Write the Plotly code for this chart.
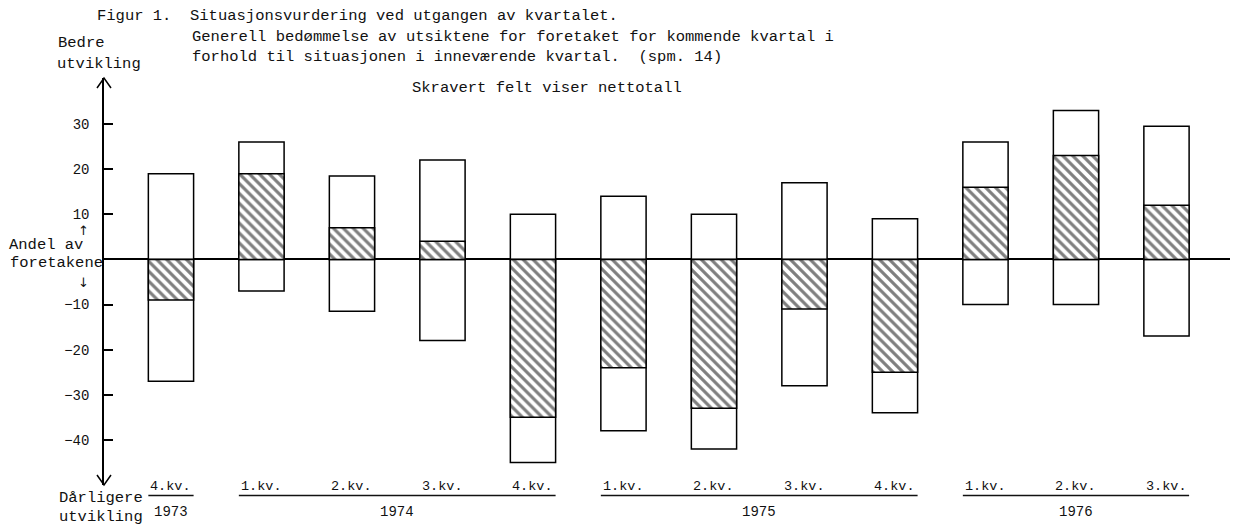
"""
Figur 1 - Situasjonsvurdering ved utgangen av kvartalet.
Andel foretak med bedre / dårligere utvikling, skravert felt = nettotall.
"""
import plotly.graph_objects as go

# kvartaler 1973 4.kv. - 1976 3.kv.
KVARTAL = ["4.kv.", "1.kv.", "2.kv.", "3.kv.", "4.kv.", "1.kv.", "2.kv.",
           "3.kv.", "4.kv.", "1.kv.", "2.kv.", "3.kv."]
AAR = [1973, 1974, 1974, 1974, 1974, 1975, 1975, 1975, 1975, 1976, 1976, 1976]

# prosent av foretakene
BEDRE = [19, 26, 18.5, 22, 10, 14, 10, 17, 9, 26, 33, 29.5]
DARLIGERE = [-27, -7, -11.5, -18, -45, -38, -42, -28, -34, -10, -10, -17]
NETTO = [-9, 19, 7, 4, -35, -24, -33, -11, -25, 16, 23, 12]

Y_TICKS = [30, 20, 10, -10, -20, -30, -40]
Y_TICKTEXT = ["30", "20", "10", "−10", "−20", "−30", "−40"]

# siden har 8px body-marg, så figuren tegnes 8px inn
OFF = 8
W, H = 1238 - OFF, 527 - OFF
ML, MR, MT, MB = 104 - OFF, 5, 78 - OFF, 42
PW, PH = W - ML - MR, H - MT - MB

MONO = "Liberation Mono"
INK = "#111111"


def px(x):
    # x i skjermpiksler -> paper
    return (x - OFF - ML) / PW


def py(y):
    # y i skjermpiksler -> paper
    return (H - MB - (y - OFF)) / PH


x = list(range(len(KVARTAL)))
box = dict(color="white", line=dict(color="black", width=1.5))

fig = go.Figure()
fig.add_trace(go.Bar(x=x, y=BEDRE, width=0.5, marker=box, name="Bedre"))
fig.add_trace(go.Bar(x=x, y=DARLIGERE, width=0.5, marker=box, name="Dårligere"))
fig.add_trace(go.Bar(
    x=x, y=NETTO, width=0.5, name="Nettotall",
    marker=dict(
        color="white",
        line=dict(color="black", width=1.5),
        pattern=dict(shape="\\", fgcolor="black", bgcolor="white",
                     size=7, solidity=0.45),
    ),
))

annotations = []


def note(text, xp, yp, anchor="left", size=15.5, family=MONO):
    annotations.append(dict(
        text=text, xref="paper", yref="paper", x=px(xp), y=py(yp),
        xanchor=anchor, yanchor="middle", showarrow=False,
        font=dict(family=family, size=size, color=INK),
    ))


# tittel
note("Figur 1.  Situasjonsvurdering ved utgangen av kvartalet.", 95, 16)
note("Generell bedømmelse av utsiktene for foretaket for kommende kvartal i", 190, 37)
note("forhold til situasjonen i inneværende kvartal.  (spm. 14)", 190, 57)
note("Skravert felt viser nettotall", 410, 88)

# aksetekster
note("Bedre", 56, 43)
note("utvikling", 55, 64)
note("↑", 83, 230, anchor="center", size=13, family="DejaVu Sans")
note("Andel av", 7, 245)
note("foretakene", 8, 263)
note("↓", 83, 282, anchor="center", size=13, family="DejaVu Sans")
note("Dårligere", 145, 498, anchor="right")
note("utvikling", 145, 517, anchor="right")

# kvartal- og årstall under søylene
for i, k in enumerate(KVARTAL):
    annotations.append(dict(
        text=k, xref="x", yref="paper", x=i, y=py(486),
        xanchor="center", yanchor="middle", showarrow=False,
        font=dict(family=MONO, size=13.5, color=INK),
    ))

shapes = []
for aar in sorted(set(AAR)):
    idx = [i for i, a in enumerate(AAR) if a == aar]
    annotations.append(dict(
        text=str(aar), xref="x", yref="paper", x=sum(idx) / len(idx), y=py(512),
        xanchor="center", yanchor="middle", showarrow=False,
        font=dict(family=MONO, size=14, color=INK),
    ))
    shapes.append(dict(
        type="line", xref="x", yref="paper",
        x0=idx[0] - 0.25, x1=idx[-1] + 0.25, y0=py(495.5), y1=py(495.5),
        line=dict(color=INK, width=1.5),
    ))

# pilspisser på y-aksen
top, bot, ax = 78, 485, 104
for tip, wing in ((top, top + 10), (bot, bot - 10)):
    shapes.append(dict(
        type="path", xref="paper", yref="paper",
        path=f"M {px(ax - 7)} {py(wing)} L {px(ax)} {py(tip)} L {px(ax + 7)} {py(wing)}",
        line=dict(color="black", width=1.5),
    ))

fig.update_layout(
    width=W, height=H,
    margin=dict(l=ML, r=MR, t=MT, b=MB),
    barmode="overlay",
    showlegend=False,
    plot_bgcolor="white",
    paper_bgcolor="white",
    annotations=annotations,
    shapes=shapes,
)
fig.update_xaxes(
    range=[-0.74, 11.735], showgrid=False, zeroline=False,
    showline=False, showticklabels=False, ticks="",
)
fig.update_yaxes(
    range=[-50, 40.2], showgrid=False,
    zeroline=True, zerolinecolor="black", zerolinewidth=2,
    showline=True, linecolor="black", linewidth=1.5,
    ticks="inside", ticklen=9, tickwidth=1.5, tickcolor="black",
    tickvals=Y_TICKS, ticktext=Y_TICKTEXT, ticklabelstandoff=10,
    tickfont=dict(family=MONO, size=14, color=INK),
)

fig.write_html("out.html")
